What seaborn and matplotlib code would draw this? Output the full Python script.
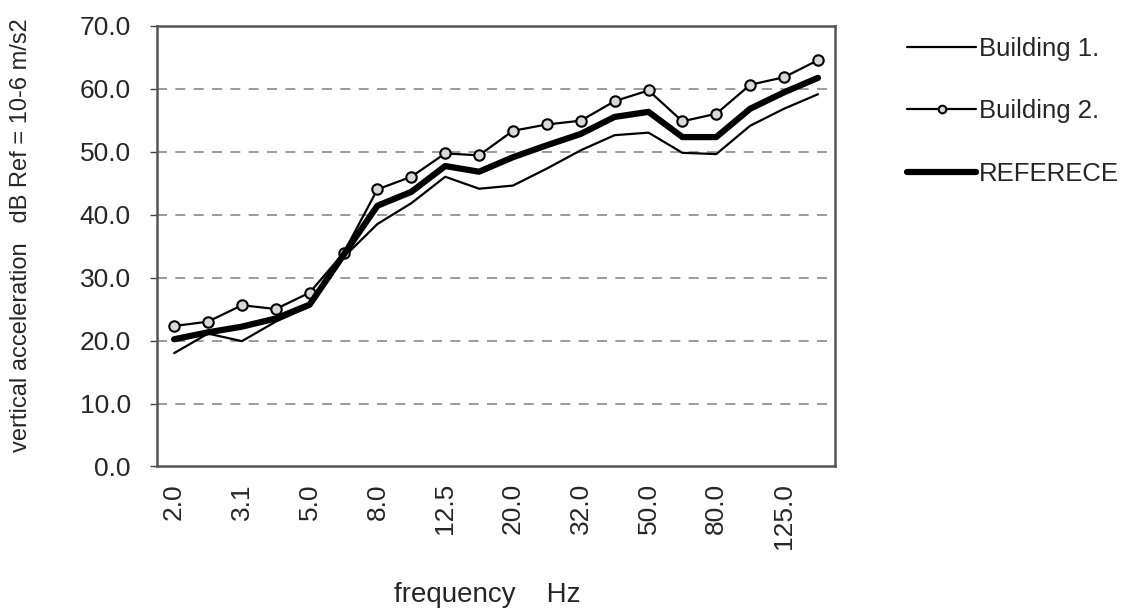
import matplotlib
matplotlib.use("Agg")
import matplotlib.pyplot as plt
import seaborn as sns
import numpy as np

# 1/3 octave band centre frequencies (Hz)
freq_labels = ["2.0", "2.5", "3.1", "4.0", "5.0", "6.3", "8.0", "10.0", "12.5", "16.0",
               "20.0", "25.0", "32.0", "40.0", "50.0", "63.0", "80.0", "100.0", "125.0", "160.0"]

# vertical acceleration, dB ref 10-6 m/s2
building_1 = [18.0, 21.1, 19.9, 23.0, 25.4, 33.2, 38.5, 41.8, 46.0, 44.1,
              44.6, 47.3, 50.2, 52.6, 53.0, 49.8, 49.6, 54.1, 56.8, 59.1]
building_2 = [22.3, 23.0, 25.6, 25.0, 27.6, 33.9, 44.0, 46.0, 49.7, 49.4,
              53.3, 54.3, 54.9, 58.0, 59.7, 54.8, 56.0, 60.6, 61.8, 64.5]
reference = [20.2, 21.3, 22.2, 23.5, 25.7, 33.6, 41.4, 43.6, 47.7, 46.8,
             49.1, 51.0, 52.8, 55.5, 56.3, 52.3, 52.3, 56.8, 59.4, 61.7]

sns.set_style("white")
plt.rcParams['font.family'] = ['Liberation Sans', 'DejaVu Sans']

fig = plt.figure(figsize=(11.39, 6.09), dpi=100)
ax = fig.add_axes([0.138, 0.234, 0.595, 0.724])

pos = np.arange(len(freq_labels))

sns.lineplot(x=pos, y=building_1, ax=ax, color="black", linewidth=1.6,
             label="Building 1.")
sns.lineplot(x=pos, y=building_2, ax=ax, color="black", linewidth=1.6,
             marker="o", markersize=7.5, markerfacecolor="#d8d8d8",
             markeredgecolor="black", markeredgewidth=1.5, label="Building 2.")
sns.lineplot(x=pos, y=reference, ax=ax, color="black", linewidth=4.5,
             label="REFERECE")

# axes
ax.set_ylim(0, 70)
ax.set_xlim(-0.5, len(freq_labels) - 0.5)
ax.set_yticks(np.arange(0, 71, 10))
ax.set_yticklabels([f"{v:.1f}" for v in range(0, 71, 10)], fontsize=19)
ax.set_xticks(pos[::2])
ax.set_xticklabels(freq_labels[::2], rotation=90, fontsize=19)
ax.set_xticks(np.arange(-0.5, len(freq_labels)), minor=True)
ax.tick_params(axis="x", which="major", length=0, pad=12)
ax.tick_params(axis="x", which="minor", length=6, width=1, color="#444", direction="out")
ax.tick_params(axis="y", length=5, width=1, color="#444", direction="out", pad=14,
               left=True)

for v in range(10, 70, 10):
    ax.axhline(v, color="#8a8a8a", linestyle=(0, (6, 5)), linewidth=1.2, zorder=0)

for s in ax.spines.values():
    s.set_color("#555")
    s.set_linewidth(1.8)

ax.set_xlabel("frequency    Hz", fontsize=20)
ax.xaxis.set_label_coords(0.487, -0.262)
ax.set_ylabel("vertical acceleration   dB Ref = 10-6 m/s2", fontsize=17)
ax.yaxis.set_label_coords(-0.184, 0.525)

leg = ax.legend(loc="upper left", bbox_to_anchor=(0.776, 0.978),
                bbox_transform=fig.transFigure, frameon=False, fontsize=18.5,
                handlelength=2.7, handletextpad=0.1, labelspacing=1.5)
for line in leg.get_lines():
    if line.get_marker() == "o":
        line.set_markersize(5.5)

fig.savefig("out.png", dpi=100)
